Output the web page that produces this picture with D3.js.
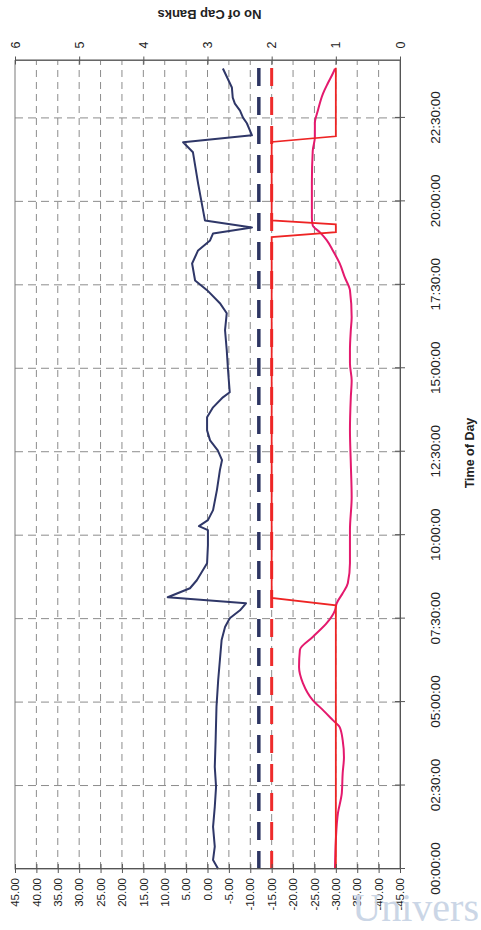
<!DOCTYPE html>
<html>
<head>
<meta charset="utf-8">
<script src="https://cdn.jsdelivr.net/npm/d3@7"></script>
<style>
  body { margin: 0; background: #fff; }
  svg { display: block; }
  text { font-family: "Liberation Sans", Arial, sans-serif; }
</style>
</head>
<body>
<svg id="chart" width="481" height="930"></svg>
<script>
// Daily profile: two reactive power traces (left axis), the switching
// limits, and the number of capacitor banks in service (right axis).
// The whole chart is laid out landscape and turned a quarter turn.

// Time of day in hours, value axis ticks, cap bank ticks
const timeTicks = [0, 2.5, 5, 7.5, 10, 12.5, 15, 17.5, 20, 22.5];
const valueTicks = [45, 40, 35, 30, 25, 20, 15, 10, 5, 0, -5, -10, -15, -20, -25, -30, -35, -40, -45];
const bankTicks = [0, 1, 2, 3, 4, 5, 6];

// Reactive power trace A (dark blue)
const traceATimes = [0, 0.27, 0.67, 1.26, 1.86, 2.46, 3.06, 3.86, 4.86, 5.66, 6.26, 6.86, 7.25, 7.51, 7.75, 7.96,
  8.14, 8.41, 8.65, 9.16, 9.7, 10.15, 10.27, 10.45, 10.75, 11.35, 11.95, 12.25, 12.54, 12.84, 13.14, 13.53,
  13.83, 14.13, 14.28, 14.94, 15.54, 16.14, 16.65, 16.95, 17.34, 17.63, 18.14, 18.53, 18.83, 19.04, 19.22,
  19.43, 20.54, 21.47, 21.77, 21.98, 22.34, 22.51, 22.72, 22.93, 23.11, 23.41, 23.98];
const traceAValues = [-2.5, -1.3, -1.7, -1.3, -1.7, -2.0, -1.7, -1.9, -2.1, -2.5, -2.9, -3.3, -4.1, -5.2, -7.6, -9.0,
  9.3, 4.1, 2.5, 0.1, -0.1, -0.1, 2.0, -0.1, -1.3, -2.2, -2.9, -3.4, -2.4, -0.6, 0.1, 0.1,
  -1.3, -3.6, -5.2, -4.8, -4.5, -4.1, -4.5, -2.9, 0.1, 2.9, 3.6, 2.2, -0.6, -1.3, -10.4,
  0.6, 2.2, 3.4, 5.7, -10.4, -9.2, -8.3, -7.6, -6.4, -5.9, -5.7, -3.6];

// Reactive power trace B (magenta)
const traceBTimes = [0, 0.87, 1.68, 2.28, 2.87, 3.35, 3.86, 4.25, 4.46, 4.76, 5.06, 5.57, 6.05, 6.56, 6.95, 7.37,
  7.75, 7.96, 8.26, 8.56, 9.16, 10.15, 11.14, 12.16, 13.14, 14.13, 14.64, 15.15, 15.54, 16.14, 16.53, 17.34,
  17.72, 18.14, 18.53, 18.83, 19.07, 19.28, 19.52, 20.54, 21.51, 21.92, 22.34, 22.72, 23.23, 23.53, 23.83, 23.98];
const traceBValues = [-29.8, -30.0, -30.5, -31.4, -31.6, -31.9, -31.6, -30.9, -29.3, -27.0, -24.6, -22.3, -21.4, -21.6, -24.6, -27.9,
  -29.8, -30.2, -31.6, -32.8, -33.3, -33.3, -33.7, -33.5, -33.3, -33.5, -33.7, -33.3, -33.3, -33.5, -33.7, -33.3,
  -32.1, -30.9, -29.3, -27.9, -26.3, -24.6, -24.4, -24.4, -24.6, -25.1, -25.1, -25.8, -27.0, -28.1, -29.3, -29.8];

// Capacitor banks in service (right axis)
const bankTimes = [0, 7.9, 8.12, 18.93, 19.08, 19.31, 19.43, 21.78, 21.95, 24.0];
const bankValues = [1, 1, 2, 2, 1, 1, 2, 2, 1, 1];

// Switching limits (left axis)
const limitUpper = -12;
const limitLower = -15;
const limitSpan = [0, 24];

const FRAME_W = 930;   // landscape width before the turn
const svg = d3.select("#chart");
const g = svg.append("g").attr("transform", `translate(0,${FRAME_W}) rotate(-90)`);

const plot = { left: 61, right: 869.5, top: 15, bottom: 400 };

const x = d3.scaleLinear().domain([0, 24.22]).range([plot.left, plot.right]);
const y = d3.scaleLinear().domain([45, -45]).range([plot.top, plot.bottom]);
const y2 = d3.scaleLinear().domain([6, 0]).range([plot.top, plot.bottom]);

const gridColor = "#8c8c8c";

// Value gridlines
g.append("g").selectAll("line")
  .data(valueTicks.filter(v => v !== 45 && v !== -45))
  .join("line")
  .attr("x1", plot.left).attr("x2", plot.right)
  .attr("y1", d => y(d)).attr("y2", d => y(d))
  .attr("stroke", gridColor).attr("stroke-width", 1)
  .attr("stroke-dasharray", "7,5");

// Time gridlines
g.append("g").selectAll("line")
  .data(timeTicks.filter(t => t > 0))
  .join("line")
  .attr("x1", d => x(d)).attr("x2", d => x(d))
  .attr("y1", plot.top).attr("y2", plot.bottom)
  .attr("stroke", gridColor).attr("stroke-width", 1)
  .attr("stroke-dasharray", "8,5");

// Plot frame
g.append("rect")
  .attr("x", plot.left).attr("y", plot.top)
  .attr("width", plot.right - plot.left).attr("height", plot.bottom - plot.top)
  .attr("fill", "none").attr("stroke", "#7a7a7a").attr("stroke-width", 1);

// Limits
const limitLine = v => d3.line().x(d => x(d)).y(() => y(v))(limitSpan);
g.append("path").attr("d", limitLine(limitLower))
  .attr("fill", "none").attr("stroke", "#ee2b2b").attr("stroke-width", 3)
  .attr("stroke-dasharray", "18,11");
g.append("path").attr("d", limitLine(limitUpper))
  .attr("fill", "none").attr("stroke", "#2d3562").attr("stroke-width", 3.5)
  .attr("stroke-dasharray", "18,11");

// Trace B
g.append("path")
  .datum(d3.zip(traceBTimes, traceBValues))
  .attr("d", d3.line().x(d => x(d[0])).y(d => y(d[1])).curve(d3.curveMonotoneX))
  .attr("fill", "none").attr("stroke", "#e4196d").attr("stroke-width", 2);

// Cap banks
g.append("path")
  .datum(d3.zip(bankTimes, bankValues))
  .attr("d", d3.line().x(d => x(d[0])).y(d => y2(d[1])))
  .attr("fill", "none").attr("stroke", "#ee2424").attr("stroke-width", 1.8);

// Trace A
g.append("path")
  .datum(d3.zip(traceATimes, traceAValues))
  .attr("d", d3.line().x(d => x(d[0])).y(d => y(d[1])))
  .attr("fill", "none").attr("stroke", "#2f3768").attr("stroke-width", 2)
  .attr("stroke-linejoin", "round");

const axisInk = "#555";
const styleAxis = (sel, size) => {
  sel.select(".domain").attr("stroke", axisInk);
  sel.selectAll(".tick line").attr("stroke", axisInk);
  sel.selectAll(".tick text").attr("fill", "#222").style("font-size", size + "px")
    .style("font-family", "'Liberation Sans', Arial, sans-serif");
};

// Left value axis
const leftAxis = g.append("g").attr("transform", `translate(${plot.left},0)`)
  .call(d3.axisLeft(y).tickValues(valueTicks).tickFormat(d => d.toFixed(2))
    .tickSizeInner(4).tickSizeOuter(0).tickPadding(5));
leftAxis.selectAll(".tick line").attr("x1", 5);
styleAxis(leftAxis, 11.5);

// Time axis
const fmtTime = h => {
  const hh = Math.floor(h), mm = Math.round((h - hh) * 60);
  return `${String(hh).padStart(2, "0")}:${String(mm).padStart(2, "0")}:00`;
};
const timeAxis = g.append("g").attr("transform", `translate(0,${plot.bottom})`)
  .call(d3.axisBottom(x).tickValues(timeTicks).tickFormat(fmtTime)
    .tickSizeInner(5).tickSizeOuter(0).tickPadding(25));
timeAxis.selectAll(".tick line").attr("y1", -5);
styleAxis(timeAxis, 13.5);

// Cap bank axis
const rightAxis = g.append("g").attr("transform", `translate(${plot.right},0)`)
  .call(d3.axisRight(y2).tickValues(bankTicks).tickFormat(d3.format("d"))
    .tickSizeInner(4).tickSizeOuter(0).tickPadding(8));
rightAxis.selectAll(".tick line").attr("x1", -4);
styleAxis(rightAxis, 12.5);

// Axis titles
g.append("text")
  .attr("transform", `translate(916,${(plot.top + plot.bottom) / 2 + 2}) rotate(-90)`)
  .attr("text-anchor", "middle").attr("dominant-baseline", "central")
  .style("font-size", "13px").style("font-weight", "bold").attr("fill", "#222")
  .text("No of Cap Banks");

g.append("text")
  .attr("x", 477).attr("y", 470)
  .attr("text-anchor", "middle").attr("dominant-baseline", "central")
  .style("font-size", "12.5px").style("font-weight", "bold").attr("fill", "#222")
  .text("Time of Day");

// Page watermark
svg.append("text")
  .attr("x", 479).attr("y", 921)
  .attr("text-anchor", "end")
  .style("font-family", "'Liberation Serif', 'DejaVu Serif', serif")
  .style("font-size", "40px").attr("fill", "#cbd6e6")
  .text("Univers");
</script>
</body>
</html>
